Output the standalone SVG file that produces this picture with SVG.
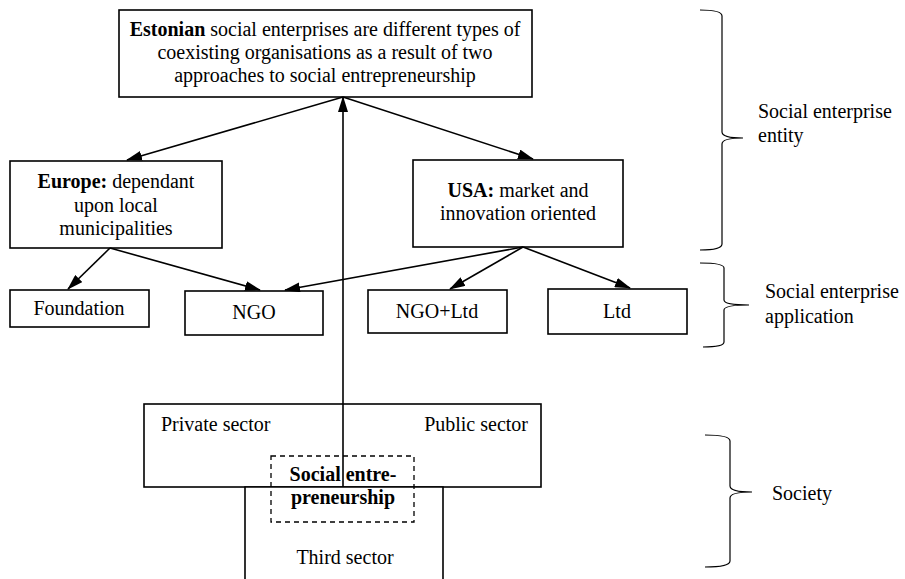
<svg xmlns="http://www.w3.org/2000/svg" width="905" height="579" viewBox="0 0 905 579">
<style>
.box{fill:#fff;stroke:#000;stroke-width:1.6}
.dash{fill:none;stroke:#000;stroke-width:1.3;stroke-dasharray:5,4}
text{font-family:'Liberation Serif','Times New Roman','DejaVu Serif',serif;font-size:20px;fill:#000}
.c{text-anchor:middle}
.b{font-weight:bold}
.con{stroke:#000;stroke-width:1.6;fill:none}
.brace{stroke:#000;stroke-width:1.2;fill:none}
</style>
<defs>
<marker id="ah" viewBox="0 0 16 10" refX="15" refY="5" markerWidth="16" markerHeight="10" markerUnits="userSpaceOnUse" orient="auto">
<path d="M0,0 L16,5 L0,10 z" fill="#000"/>
</marker>
</defs>
<rect width="905" height="579" fill="#fff"/>

<g id="top">
<rect class="box" x="119" y="10" width="413" height="87"/>
<text class="c" x="325" y="36"><tspan class="b">Estonian</tspan> social enterprises are different types of</text>
<text class="c" x="325" y="59">coexisting organisations as a result of two</text>
<text class="c" x="325" y="82">approaches to social entrepreneurship</text>
</g>

<g id="europe">
<rect class="box" x="10" y="161" width="212" height="87"/>
<text class="c" x="116" y="188"><tspan class="b">Europe:</tspan> dependant</text>
<text class="c" x="116" y="212">upon local</text>
<text class="c" x="116" y="235">municipalities</text>
</g>

<g id="usa">
<rect class="box" x="413" y="160" width="210" height="87"/>
<text class="c" x="518" y="197"><tspan class="b">USA:</tspan> market and</text>
<text class="c" x="518" y="220">innovation oriented</text>
</g>

<g id="foundation">
<rect class="box" x="10" y="290" width="139" height="37"/>
<text class="c" x="79" y="315">Foundation</text>
</g>
<g id="ngo">
<rect class="box" x="185" y="291" width="138" height="44"/>
<text class="c" x="254" y="319">NGO</text>
</g>
<g id="ngoltd">
<rect class="box" x="368" y="290" width="139" height="43"/>
<text class="c" x="437" y="318">NGO+Ltd</text>
</g>
<g id="ltd">
<rect class="box" x="548" y="289" width="139" height="45"/>
<text class="c" x="617" y="318">Ltd</text>
</g>

<g id="society">
<rect class="box" x="144" y="404" width="397" height="83"/>
<text x="161" y="431">Private sector</text>
<text x="528" y="431" text-anchor="end">Public sector</text>
<path class="box" d="M245,579 L245,487 L443,487 L443,579"/>
<text class="c" x="345" y="564">Third sector</text>
</g>

<g id="socialentrepreneurship">
<rect class="dash" x="271" y="456" width="143" height="66"/>
<text class="c b" x="343" y="481">Social entre-</text>
<text class="c b" x="343" y="504">preneurship</text>
</g>

<g id="connectors">
<line class="con" x1="343" y1="487" x2="343" y2="97" marker-end="url(#ah)"/>
<line class="con" x1="343" y1="97" x2="127" y2="160" marker-end="url(#ah)"/>
<line class="con" x1="343" y1="97" x2="533" y2="159" marker-end="url(#ah)"/>
<line class="con" x1="110" y1="248" x2="68" y2="289" marker-end="url(#ah)"/>
<line class="con" x1="110" y1="248" x2="260" y2="290" marker-end="url(#ah)"/>
<line class="con" x1="523" y1="247" x2="285" y2="290" marker-end="url(#ah)"/>
<line class="con" x1="523" y1="247" x2="450" y2="289" marker-end="url(#ah)"/>
<line class="con" x1="523" y1="247" x2="630" y2="288" marker-end="url(#ah)"/>
</g>

<g id="brace-entity">
<path class="brace" d="M700,10 Q722,10 722,16 L722,132 Q722,138 743,138 Q722,138 722,144 L722,244 Q722,250 700,250"/>
<text x="758" y="118">Social enterprise</text>
<text x="758" y="142">entity</text>
</g>
<g id="brace-application">
<path class="brace" d="M700,263 Q724,263 724,268 L724,300 Q724,305 749,305 Q724,305 724,310 L724,342 Q724,347 703,347"/>
<text x="765" y="298">Social enterprise</text>
<text x="765" y="323">application</text>
</g>
<g id="brace-society">
<path class="brace" d="M705,435 Q730,435 730,441 L730,486 Q730,492 752,492 Q730,492 730,498 L730,561 Q730,567 705,567"/>
<text x="772" y="500">Society</text>
</g>
</svg>
